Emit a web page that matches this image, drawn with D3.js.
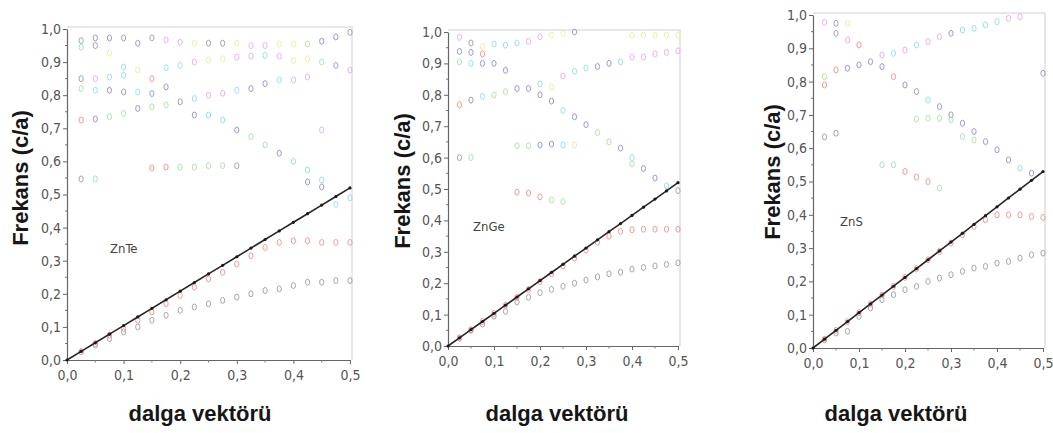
<!DOCTYPE html>
<html>
<head>
<meta charset="utf-8">
<script src="https://cdn.jsdelivr.net/npm/d3@7"></script>
<style>
  html, body { margin: 0; padding: 0; background: #fff; }
  svg { display: block; }
</style>
</head>
<body>
<script>
// Photonic band structures (frequency vs. wave vector) for ZnTe, ZnGe and ZnS.

// Wave-vector sampling of the computed modes
const waveVector = [0.025, 0.05, 0.075, 0.1, 0.125, 0.15, 0.175, 0.2, 0.225, 0.25,
                    0.275, 0.3, 0.325, 0.35, 0.375, 0.4, 0.425, 0.45, 0.475, 0.5];
// Wave-vector sampling of the light line (starts at the origin)
const lightWaveVector = [0, 0.025, 0.05, 0.075, 0.1, 0.125, 0.15, 0.175, 0.2, 0.225, 0.25,
                         0.275, 0.3, 0.325, 0.35, 0.375, 0.4, 0.425, 0.45, 0.475, 0.5];

// Axis ticks
const yTickValues = [0, 0.1, 0.2, 0.3, 0.4, 0.5, 0.6, 0.7, 0.8, 0.9, 1.0];
const yTickLabels = ["0,0", "0,1", "0,2", "0,3", "0,4", "0,5", "0,6", "0,7", "0,8", "0,9", "1,0"];
const yMinorTicks = [0.05, 0.15, 0.25, 0.35, 0.45, 0.55, 0.65, 0.75, 0.85, 0.95];
const xTickValues = [0, 0.1, 0.2, 0.3, 0.4, 0.5];
const xTickLabels = ["0,0", "0,1", "0,2", "0,3", "0,4", "0,5"];
const xMinorTicks = [0.05, 0.15, 0.25, 0.35, 0.45];

// ---- ZnTe ----
const znTeLight = [0, 0.026, 0.052, 0.078, 0.104, 0.13, 0.156, 0.182, 0.208, 0.234, 0.26,
                   0.286, 0.312, 0.338, 0.364, 0.39, 0.416, 0.442, 0.468, 0.494, 0.52];
const znTeBand1 = [0.025, 0.045, 0.065, 0.085, 0.1, 0.12, 0.135, 0.15, 0.16, 0.17,
                   0.18, 0.19, 0.2, 0.21, 0.215, 0.225, 0.235, 0.235, 0.24, 0.24];
const znTeBand2 = [0.025, 0.05, 0.075, 0.095, 0.12, 0.145, 0.17, 0.195, 0.22, 0.245,
                   0.265, 0.29, 0.315, 0.34, 0.355, 0.36, 0.36, 0.355, 0.355, 0.355];
// Higher modes: [wave vector, frequency, colour key]
const znTeHigher = [
  [0.025, 0.965, "g"], [0.025, 0.945, "c"], [0.025, 0.85, "b"], [0.025, 0.82, "n"], [0.025, 0.725, "r"], [0.025, 0.547, "g"],
  [0.05, 0.973, "b"], [0.05, 0.95, "g"], [0.05, 0.85, "p"], [0.05, 0.815, "c"], [0.05, 0.728, "b"], [0.05, 0.547, "n"],
  [0.075, 0.973, "b"], [0.075, 0.927, "y"], [0.075, 0.855, "c"], [0.075, 0.815, "b"], [0.075, 0.735, "n"],
  [0.1, 0.973, "g"], [0.1, 0.885, "c"], [0.1, 0.86, "c"], [0.1, 0.81, "b"], [0.1, 0.745, "n"],
  [0.125, 0.957, "b"], [0.125, 0.876, "y"], [0.125, 0.81, "c"], [0.125, 0.76, "b"],
  [0.15, 0.973, "g"], [0.15, 0.85, "r"], [0.15, 0.805, "b"], [0.15, 0.765, "n"], [0.15, 0.58, "r"],
  [0.175, 0.967, "p"], [0.175, 0.883, "c"], [0.175, 0.825, "b"], [0.175, 0.77, "n"], [0.175, 0.583, "r"],
  [0.2, 0.96, "p"], [0.2, 0.89, "c"], [0.2, 0.78, "b"], [0.2, 0.583, "n"],
  [0.225, 0.957, "y"], [0.225, 0.9, "p"], [0.225, 0.79, "c"], [0.225, 0.74, "b"], [0.225, 0.583, "n"],
  [0.25, 0.957, "g"], [0.25, 0.906, "y"], [0.25, 0.8, "p"], [0.25, 0.74, "c"], [0.25, 0.587, "n"],
  [0.275, 0.957, "g"], [0.275, 0.91, "y"], [0.275, 0.806, "p"], [0.275, 0.725, "c"], [0.275, 0.587, "n"],
  [0.3, 0.957, "y"], [0.3, 0.915, "p"], [0.3, 0.815, "c"], [0.3, 0.695, "b"], [0.3, 0.587, "g"],
  [0.325, 0.95, "p"], [0.325, 0.918, "p"], [0.325, 0.82, "b"], [0.325, 0.675, "n"],
  [0.35, 0.95, "p"], [0.35, 0.92, "c"], [0.35, 0.835, "b"], [0.35, 0.65, "n"],
  [0.375, 0.955, "y"], [0.375, 0.918, "p"], [0.375, 0.846, "c"], [0.375, 0.625, "b"],
  [0.4, 0.955, "y"], [0.4, 0.905, "y"], [0.4, 0.846, "p"], [0.4, 0.6, "c"],
  [0.425, 0.955, "n"], [0.425, 0.91, "y"], [0.425, 0.855, "p"], [0.425, 0.574, "c"], [0.425, 0.538, "b"],
  [0.45, 0.963, "b"], [0.45, 0.9, "n"], [0.45, 0.695, "p"], [0.45, 0.544, "c"], [0.45, 0.523, "b"],
  [0.475, 0.976, "b"], [0.475, 0.89, "b"], [0.475, 0.47, "c"],
  [0.5, 0.99, "g"], [0.5, 0.876, "p"], [0.5, 0.49, "c"]
];

// ---- ZnGe ----
const znGeLight = [0, 0.026, 0.052, 0.078, 0.104, 0.13, 0.156, 0.182, 0.208, 0.234, 0.26,
                   0.286, 0.312, 0.338, 0.364, 0.39, 0.416, 0.442, 0.468, 0.494, 0.52];
const znGeBand1 = [0.025, 0.05, 0.07, 0.095, 0.11, 0.14, 0.155, 0.17, 0.18, 0.19,
                   0.2, 0.21, 0.22, 0.23, 0.235, 0.245, 0.25, 0.255, 0.26, 0.265];
const znGeBand2 = [0.026, 0.052, 0.078, 0.104, 0.13, 0.155, 0.18, 0.205, 0.23, 0.255,
                   0.28, 0.305, 0.33, 0.35, 0.365, 0.37, 0.372, 0.372, 0.372, 0.372];
const znGeHigher = [
  [0.025, 0.983, "p"], [0.025, 0.938, "b"], [0.025, 0.905, "n"], [0.025, 0.768, "r"], [0.025, 0.6, "g"],
  [0.05, 0.965, "g"], [0.05, 0.935, "b"], [0.05, 0.9, "c"], [0.05, 0.783, "b"], [0.05, 0.6, "n"],
  [0.075, 0.953, "y"], [0.075, 0.93, "r"], [0.075, 0.9, "b"], [0.075, 0.795, "c"],
  [0.1, 0.962, "c"], [0.1, 0.9, "b"], [0.1, 0.8, "n"],
  [0.125, 0.958, "c"], [0.125, 0.878, "b"], [0.125, 0.81, "n"],
  [0.15, 0.965, "c"], [0.15, 0.82, "b"], [0.15, 0.638, "n"], [0.15, 0.49, "r"],
  [0.175, 0.97, "p"], [0.175, 0.82, "b"], [0.175, 0.638, "n"], [0.175, 0.487, "r"],
  [0.2, 0.985, "p"], [0.2, 0.835, "c"], [0.2, 0.8, "b"], [0.2, 0.64, "b"], [0.2, 0.475, "r"],
  [0.225, 0.99, "y"], [0.225, 0.825, "y"], [0.225, 0.78, "b"], [0.225, 0.643, "b"], [0.225, 0.465, "n"],
  [0.25, 0.995, "y"], [0.25, 0.86, "p"], [0.25, 0.75, "c"], [0.25, 0.64, "c"], [0.25, 0.46, "n"],
  [0.275, 1.0, "g"], [0.275, 0.875, "c"], [0.275, 0.73, "b"], [0.275, 0.64, "y"],
  [0.3, 0.885, "c"], [0.3, 0.705, "b"],
  [0.325, 0.89, "b"], [0.325, 0.68, "n"],
  [0.35, 0.9, "b"], [0.35, 0.65, "n"],
  [0.375, 0.905, "c"], [0.375, 0.63, "b"],
  [0.4, 0.99, "y"], [0.4, 0.92, "p"], [0.4, 0.6, "c"], [0.4, 0.58, "n"],
  [0.425, 0.99, "y"], [0.425, 0.92, "p"], [0.425, 0.565, "b"],
  [0.45, 0.99, "y"], [0.45, 0.93, "p"], [0.45, 0.535, "b"],
  [0.475, 0.99, "y"], [0.475, 0.935, "p"], [0.475, 0.51, "c"],
  [0.5, 0.99, "y"], [0.5, 0.94, "p"], [0.5, 0.495, "g"]
];

// ---- ZnS ----
const znSLight = [0, 0.0265, 0.053, 0.0795, 0.106, 0.1325, 0.159, 0.1855, 0.212, 0.2385, 0.265,
                  0.2915, 0.318, 0.3445, 0.371, 0.3975, 0.424, 0.4505, 0.477, 0.5035, 0.53];
const znSBand1 = [0.025, 0.045, 0.05, 0.095, 0.12, 0.145, 0.16, 0.175, 0.185, 0.2,
                  0.21, 0.22, 0.23, 0.24, 0.245, 0.255, 0.26, 0.27, 0.28, 0.285];
const znSBand2 = [0.026, 0.053, 0.079, 0.106, 0.132, 0.159, 0.185, 0.212, 0.238, 0.265,
                  0.29, 0.315, 0.34, 0.365, 0.385, 0.4, 0.4, 0.4, 0.395, 0.392];
const znSHigher = [
  [0.025, 0.978, "p"], [0.025, 0.815, "n"], [0.025, 0.79, "r"], [0.025, 0.634, "g"],
  [0.05, 0.975, "b"], [0.05, 0.945, "g"], [0.05, 0.835, "r"], [0.05, 0.645, "g"],
  [0.075, 0.975, "y"], [0.075, 0.925, "p"], [0.075, 0.84, "b"],
  [0.1, 0.91, "r"], [0.1, 0.85, "b"],
  [0.125, 0.86, "b"],
  [0.15, 0.88, "p"], [0.15, 0.845, "b"], [0.15, 0.55, "n"],
  [0.175, 0.885, "c"], [0.175, 0.815, "r"], [0.175, 0.55, "n"],
  [0.2, 0.895, "p"], [0.2, 0.79, "b"], [0.2, 0.53, "r"],
  [0.225, 0.91, "c"], [0.225, 0.77, "b"], [0.225, 0.688, "n"], [0.225, 0.513, "r"],
  [0.25, 0.92, "p"], [0.25, 0.745, "c"], [0.25, 0.69, "n"], [0.25, 0.5, "r"],
  [0.275, 0.935, "p"], [0.275, 0.725, "b"], [0.275, 0.69, "n"], [0.275, 0.48, "n"],
  [0.3, 0.945, "b"], [0.3, 0.7, "b"], [0.3, 0.685, "n"],
  [0.325, 0.955, "c"], [0.325, 0.675, "b"], [0.325, 0.635, "n"],
  [0.35, 0.96, "c"], [0.35, 0.65, "b"], [0.35, 0.625, "n"],
  [0.375, 0.97, "c"], [0.375, 0.62, "b"],
  [0.4, 0.98, "c"], [0.4, 0.595, "b"],
  [0.425, 0.99, "p"], [0.425, 0.565, "b"],
  [0.45, 0.995, "p"], [0.45, 0.54, "c"],
  [0.475, 0.525, "b"],
  [0.5, 0.825, "b"]
];

// Mode colours
const modeColors = {
  g: "#a6a6a6", r: "#f09a9a", p: "#eab0ef", c: "#9adfee",
  n: "#b2e2b2", y: "#eeeeaa", b: "#9a9ad2"
};

// Panel layout
const panels = [
  { name: "ZnTe", light: znTeLight, band1: znTeBand1, band2: znTeBand2, higher: znTeHigher,
    x0: 67, x1: 350, yTop: 29, yBottom: 360, xLabelY: 384,
    yTitleX: 28, yTitleY: 178, xTitleX: 200, labelX: 110, labelY: 253 },
  { name: "ZnGe", light: znGeLight, band1: znGeBand1, band2: znGeBand2, higher: znGeHigher,
    x0: 448, x1: 678, yTop: 32, yBottom: 346, xLabelY: 371,
    yTitleX: 410, yTitleY: 181, xTitleX: 557, labelX: 473, labelY: 231 },
  { name: "ZnS", light: znSLight, band1: znSBand1, band2: znSBand2, higher: znSHigher,
    x0: 813, x1: 1043, yTop: 15, yBottom: 348, xLabelY: 372,
    yTitleX: 780, yTitleY: 172, xTitleX: 896, labelX: 840, labelY: 226 }
];

const tickFont = "'Liberation Sans Narrow', 'DejaVu Sans Condensed', sans-serif";
const titleFont = "'Liberation Sans', Arial, sans-serif";

const svg = d3.select("body").append("svg")
  .attr("width", 1053).attr("height", 433);

panels.forEach(p => {
  const x = d3.scaleLinear().domain([0, 0.5]).range([p.x0, p.x1]);
  const y = d3.scaleLinear().domain([0, 1]).range([p.yBottom, p.yTop]);
  const g = svg.append("g");

  // light frame on top and right of the plotting area
  g.append("path")
    .attr("d", `M${p.x0},${p.yTop - 2}H${p.x1 + 2}V${p.yBottom}`)
    .attr("fill", "none").attr("stroke", "#e0e0e0").attr("stroke-width", 1.5);

  // y axis
  const yAxis = g.append("g")
    .attr("transform", `translate(${p.x0},0)`)
    .call(d3.axisLeft(y).tickValues(yTickValues)
      .tickFormat((d, i) => yTickLabels[i]).tickSize(4).tickSizeOuter(0).tickPadding(2));
  yAxis.selectAll(".tick line").attr("stroke", "#666");
  yAxis.select(".domain").attr("stroke", "#666").attr("stroke-width", 1.2);
  yAxis.selectAll("text").attr("fill", "#555").style("font-family", tickFont).style("font-size", "14px");
  yAxis.selectAll(".minor").data(yMinorTicks).enter().append("line")
    .attr("x1", 0).attr("x2", -2).attr("y1", d => y(d)).attr("y2", d => y(d))
    .attr("stroke", "#777");

  // x axis
  const xAxis = g.append("g")
    .attr("transform", `translate(0,${p.yBottom})`)
    .call(d3.axisBottom(x).tickValues(xTickValues)
      .tickFormat((d, i) => xTickLabels[i]).tickSize(4).tickSizeOuter(0).tickPadding(6));
  xAxis.selectAll(".tick line").attr("stroke", "#666");
  xAxis.select(".domain").attr("stroke", "#666").attr("stroke-width", 1.2);
  xAxis.selectAll("text").attr("fill", "#555").style("font-family", tickFont).style("font-size", "14px");
  xAxis.selectAll(".minor").data(xMinorTicks).enter().append("line")
    .attr("x1", d => x(d)).attr("x2", d => x(d)).attr("y1", 0).attr("y2", 2.5)
    .attr("stroke", "#777");

  // higher-frequency modes
  g.append("g").selectAll("ellipse").data(p.higher).enter().append("ellipse")
    .attr("cx", d => x(d[0])).attr("cy", d => y(d[1]))
    .attr("rx", 2.1).attr("ry", 3)
    .attr("fill", "none").attr("stroke", d => modeColors[d[2]]).attr("stroke-width", 1);

  // lowest two bands
  const band1 = waveVector.map((k, i) => [k, p.band1[i]]);
  const band2 = waveVector.map((k, i) => [k, p.band2[i]]);
  g.append("g").selectAll("ellipse").data(band1).enter().append("ellipse")
    .attr("cx", d => x(d[0])).attr("cy", d => y(d[1]))
    .attr("rx", 2.1).attr("ry", 3)
    .attr("fill", "none").attr("stroke", modeColors.g).attr("stroke-width", 1);
  g.append("g").selectAll("ellipse").data(band2).enter().append("ellipse")
    .attr("cx", d => x(d[0])).attr("cy", d => y(d[1]))
    .attr("rx", 2.1).attr("ry", 3)
    .attr("fill", "none").attr("stroke", modeColors.r).attr("stroke-width", 1);

  // light line
  const lightPts = lightWaveVector.map((k, i) => [k, p.light[i]]);
  g.append("path")
    .datum(lightPts)
    .attr("d", d3.line().x(d => x(d[0])).y(d => y(d[1])))
    .attr("fill", "none").attr("stroke", "#262626").attr("stroke-width", 1.6);
  g.append("g").selectAll("circle").data(lightPts).enter().append("circle")
    .attr("cx", d => x(d[0])).attr("cy", d => y(d[1])).attr("r", 1.6)
    .attr("fill", "#1a1a1a");

  // material label
  g.append("text")
    .attr("x", p.labelX).attr("y", p.labelY)
    .style("font-family", tickFont).style("font-size", "13px")
    .attr("fill", "#444").text(p.name);

  // axis titles
  g.append("text")
    .attr("transform", `translate(${p.yTitleX},${p.yTitleY}) rotate(-90)`)
    .attr("text-anchor", "middle")
    .style("font-family", titleFont).style("font-size", "22px").style("font-weight", "bold")
    .attr("fill", "#161616").text("Frekans (c/a)");
  g.append("text")
    .attr("x", p.xTitleX).attr("y", 421)
    .attr("text-anchor", "middle")
    .style("font-family", titleFont).style("font-size", "22px").style("font-weight", "bold")
    .attr("fill", "#161616").text("dalga vektörü");
});
</script>
</body>
</html>
